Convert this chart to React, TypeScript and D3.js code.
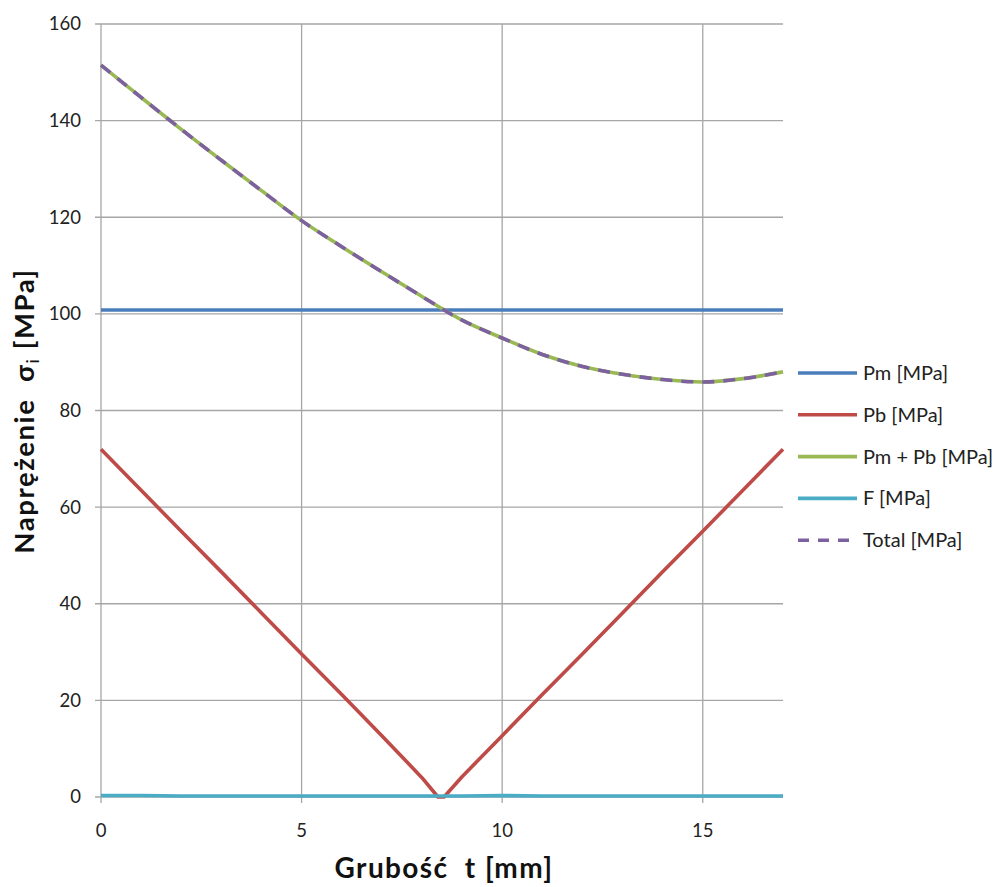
import React from 'react';
import * as d3 from 'd3';

// thickness t [mm] for the smooth curves
const thickness = [0, 1, 2, 3, 4, 5, 6, 7, 8, 9, 10, 11, 12, 13, 14, 15, 16, 17];
const pmValues = [100.8, 100.8, 100.8, 100.8, 100.8, 100.8, 100.8, 100.8, 100.8, 100.8, 100.8, 100.8, 100.8, 100.8, 100.8, 100.8, 100.8, 100.8];
const pmPbValues = [151.5, 144.8, 138.2, 131.8, 125.5, 119.3, 113.9, 108.7, 103.6, 98.7, 95.0, 91.6, 89.1, 87.5, 86.4, 85.9, 86.6, 88.0];
const totalValues = [151.5, 144.8, 138.2, 131.8, 125.5, 119.3, 113.9, 108.7, 103.6, 98.7, 95.0, 91.6, 89.1, 87.5, 86.4, 85.9, 86.6, 88.0];
const fValues = [0.3, 0.3, 0.2, 0.2, 0.2, 0.2, 0.2, 0.2, 0.2, 0.2, 0.3, 0.2, 0.2, 0.2, 0.2, 0.2, 0.2, 0.2];

// Pb has a kink near the middle, so it gets its own x values
const pbThickness = [0, 1, 2, 3, 4, 5, 6, 7, 8, 8.4, 8.55, 9, 10, 11, 12, 13, 14, 15, 16, 17];
const pbValues = [72, 63.5, 55, 46.6, 38.1, 29.6, 21.2, 12.7, 4.0, 0, 0, 4.2, 12.7, 21.2, 29.6, 38.1, 46.6, 55, 63.5, 72];

const xTicks = [0, 5, 10, 15];
const yTicks = [0, 20, 40, 60, 80, 100, 120, 140, 160];

const legendLabels = ['Pm [MPa]', 'Pb [MPa]', 'Pm + Pb [MPa]', 'F [MPa]', 'Total [MPa]'];
const colors = ['#4a7ebb', '#be4b48', '#98b954', '#4bacc6', '#7d60a0'];

const FONT = 'Lato, "Noto Sans", sans-serif';

export default function App() {
  const width = 998;
  const height = 887;
  const left = 101, right = 783, top = 24, bottom = 797;

  const x = d3.scaleLinear().domain([0, 17]).range([left, right]);
  const y = d3.scaleLinear().domain([0, 160]).range([bottom, top]);

  const lineOf = (xs: number[], ys: number[], curve: any) =>
    d3.line<number>()
      .x((d, i) => x(xs[i]))
      .y((d) => y(d))
      .curve(curve)(ys) as string;

  const series = [
    { d: lineOf(thickness, pmValues, d3.curveLinear), color: colors[0], dash: undefined },
    { d: lineOf(pbThickness, pbValues, d3.curveLinear), color: colors[1], dash: undefined },
    { d: lineOf(thickness, pmPbValues, d3.curveMonotoneX), color: colors[2], dash: undefined },
    { d: lineOf(thickness, fValues, d3.curveLinear), color: colors[3], dash: undefined },
    { d: lineOf(thickness, totalValues, d3.curveMonotoneX), color: colors[4], dash: '12,9' },
  ];

  const gridColor = '#a6a6a6';
  const legendX = 798;
  const legendY0 = 373;
  const legendStep = 41.8;

  return (
    <svg width={width} height={height} style={{ position: 'absolute', left: 0, top: 0, background: '#fff' }}>
      <rect x={0} y={0} width={width} height={height} fill="#fff" />

      {/* horizontal grid + y ticks */}
      {yTicks.map((t) => (
        <g key={'y' + t}>
          <line x1={left - 6} x2={right} y1={y(t)} y2={y(t)} stroke={gridColor} strokeWidth={1.3} />
          <text x={left - 20} y={y(t)} dy="0.35em" textAnchor="end" fontFamily={FONT} fontSize={18.5} fill="#222">{t}</text>
        </g>
      ))}

      {/* vertical grid + x ticks */}
      {xTicks.map((t) => (
        <g key={'x' + t}>
          <line x1={x(t)} x2={x(t)} y1={top} y2={bottom + 6} stroke={gridColor} strokeWidth={1.3} />
          <text x={x(t)} y={bottom + 40} textAnchor="middle" fontFamily={FONT} fontSize={18.5} fill="#222">{t}</text>
        </g>
      ))}

      {/* series */}
      {series.map((s, i) => (
        <path key={i} d={s.d} fill="none" stroke={s.color} strokeWidth={3.6}
          strokeDasharray={s.dash} strokeLinejoin="round" />
      ))}

      {/* axis titles */}
      <text x={444} y={878} textAnchor="middle" fontFamily={FONT} fontWeight="bold" fontSize={28}
        letterSpacing={1.4} fill="#111" xmlSpace="preserve" style={{ whiteSpace: 'pre' }}>
        {'Grubość  t [mm]'}
      </text>
      <text transform={`translate(34, 411) rotate(-90)`} textAnchor="middle" fontFamily={FONT} fontWeight="bold" fontSize={27.5}
        letterSpacing={1.6} fill="#111" xmlSpace="preserve" style={{ whiteSpace: 'pre' }}>
        {'Naprężenie  σ'}<tspan fontSize={18} fontWeight="normal" dy={5}>i</tspan><tspan dy={-5}>{' [MPa]'}</tspan>
      </text>

      {/* legend */}
      {legendLabels.map((label, i) => {
        const ly = legendY0 + i * legendStep;
        return (
          <g key={label}>
            <line x1={legendX} x2={857} y1={ly} y2={ly} stroke={colors[i]} strokeWidth={3.6}
              strokeDasharray={i === 4 ? '11,9' : undefined} />
            <text x={863} y={ly} dy="0.35em" fontFamily={FONT} fontSize={20} fill="#222">{label}</text>
          </g>
        );
      })}
    </svg>
  );
}
